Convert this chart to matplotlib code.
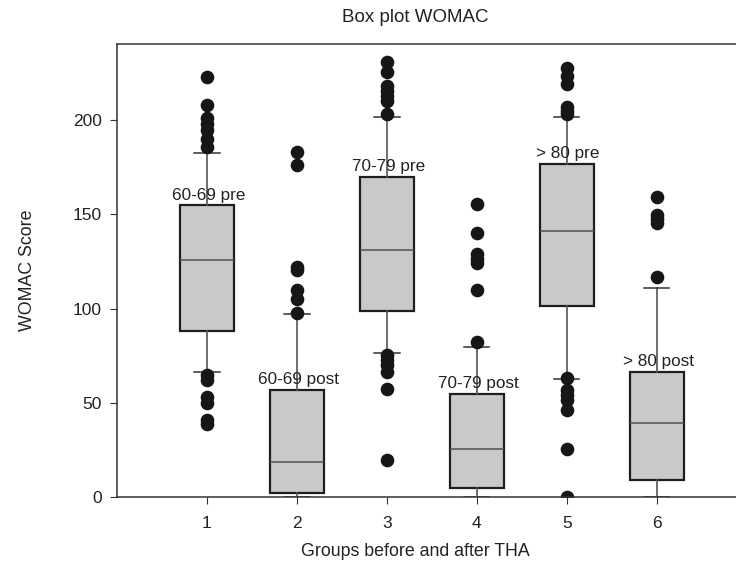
import matplotlib.pyplot as plt

# group stats
groups = [1, 2, 3, 4, 5, 6]
labels = ['60-69 pre', '60-69 post', '70-79 pre', '70-79 post', '> 80 pre', '> 80 post']
q1 = [88, 2, 98.6, 5, 101.4, 9]
med = [126, 18.5, 131, 25.4, 141, 39.4]
q3 = [154.8, 56.7, 169.8, 54.6, 176.9, 66.4]
whislo = [66.4, 0, 76.2, 0, 62.6, 0]
whishi = [182.4, 97, 201.6, 79.7, 201.6, 110.7]
fliers = [
    [223, 208, 201, 198, 195, 190, 186, 65, 62, 53, 50, 41, 39],
    [183, 176.5, 122, 120.4, 109.8, 105.3, 97.7],
    [230.8, 225.5, 218.4, 215.8, 213, 210.5, 203.4, 75.3, 72.6, 70, 66.4, 57.6, 19.6],
    [155.3, 140.3, 129.2, 126.5, 124, 109.8, 82.4],
    [228, 223.7, 219.3, 207, 205, 203.4, 63, 56.7, 54, 51.4, 46, 25.4, 0],
    [159.2, 149.5, 147.5, 145.5, 116.8],
]

plt.rcParams['font.family'] = ['Liberation Sans', 'DejaVu Sans']

stats = []
for i in range(len(groups)):
    stats.append({'q1': q1[i], 'med': med[i], 'q3': q3[i],
                  'whislo': whislo[i], 'whishi': whishi[i], 'fliers': fliers[i]})

fig = plt.figure(figsize=(7.36, 5.72), dpi=100)
ax = fig.add_axes([117 / 736, 75 / 572, 1 - 117 / 736, (497 - 44) / 572])

ax.bxp(stats, positions=groups, widths=0.6, patch_artist=True,
       boxprops=dict(facecolor='#c8c9cb', edgecolor='#1e1e1e', linewidth=1.6),
       medianprops=dict(color='#505050', linewidth=1.1),
       whiskerprops=dict(color='#555555', linewidth=1.2),
       capprops=dict(color='#333333', linewidth=1.1),
       capwidths=0.28,
       flierprops=dict(marker='o', markerfacecolor='#161616', markeredgecolor='#161616',
                       markersize=8.8, linestyle='none'),
       zorder=2)

for i in range(len(groups)):
    ax.annotate(labels[i], (groups[i], q3[i]), xytext=(1, 2), textcoords='offset points',
                ha='center', va='bottom', fontsize=12.3, color='#222222', zorder=3)

ax.set_xlim(0, 6.88)
ax.set_ylim(0, 240.5)
ax.set_xticks(groups)
ax.set_yticks([0, 50, 100, 150, 200])
ax.tick_params(direction='out', length=5, labelsize=12.5, colors='#333333', labelcolor='#222222')
ax.tick_params(axis='x', pad=9)
ax.tick_params(axis='y', pad=6)
ax.spines['right'].set_visible(False)
for s in ['left', 'top', 'bottom']:
    ax.spines[s].set_color('#333333')
    ax.spines[s].set_linewidth(1.1)

fig.text(415 / 736, 1 - 17 / 572, 'Box plot WOMAC', ha='center', va='center', fontsize=13.5, color='#222222')
fig.text(415 / 736, 1 - 552 / 572, 'Groups before and after THA', ha='center', va='center', fontsize=12.8, color='#222222')
fig.text(27 / 736, 1 - 270 / 572, 'WOMAC Score', ha='center', va='center', rotation=90, fontsize=12.8, color='#222222')

fig.savefig('out.png', dpi=100)
